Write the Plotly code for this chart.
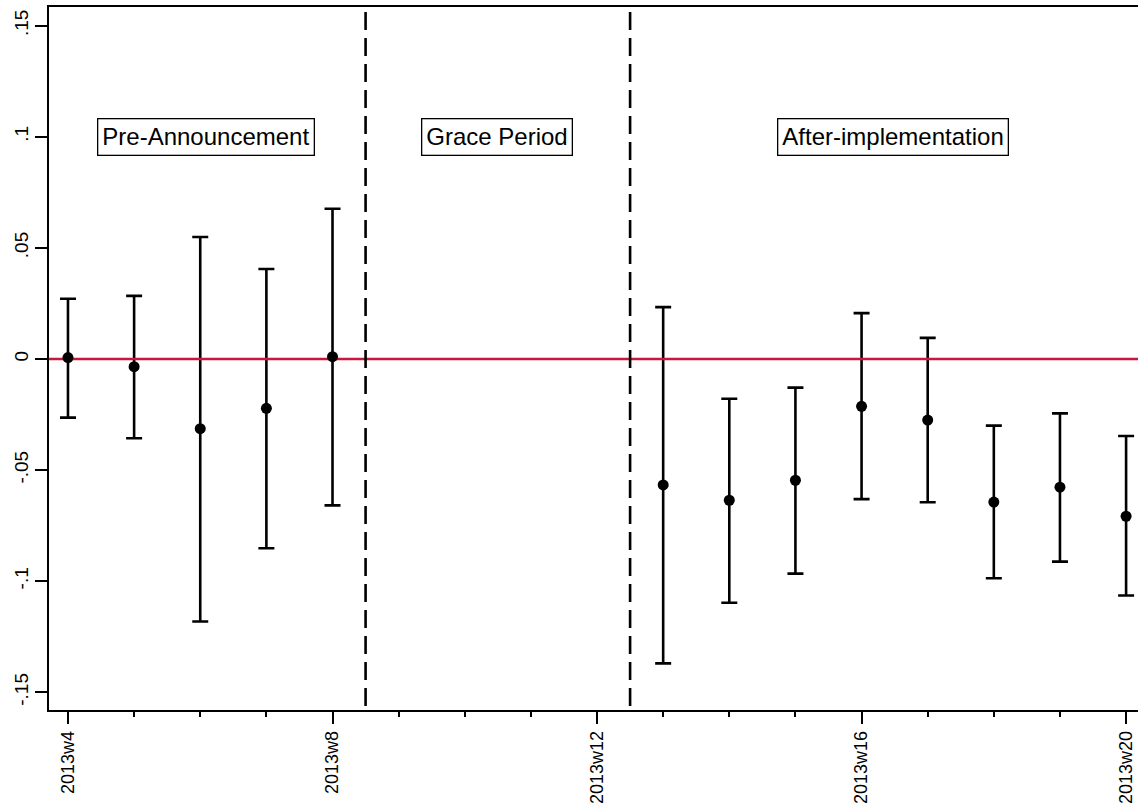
import plotly.graph_objects as go

weeks = [4, 5, 6, 7, 8, 13, 14, 15, 16, 17, 18, 19, 20]
coef = [0.0006, -0.0035, -0.0314, -0.0222, 0.0010, -0.0567, -0.0636, -0.0546, -0.0213, -0.0275, -0.0644, -0.0577, -0.0708]
ci_hi = [0.0271, 0.0284, 0.0549, 0.0405, 0.0676, 0.0233, -0.0179, -0.0129, 0.0206, 0.0095, -0.0300, -0.0245, -0.0347]
ci_lo = [-0.0264, -0.0357, -0.1182, -0.0852, -0.0659, -0.1370, -0.1097, -0.0966, -0.0631, -0.0645, -0.0987, -0.0912, -0.1065]

xtick_vals = [4, 8, 12, 16, 20]
xtick_text = ["2013w4", "2013w8", "2013w12", "2013w16", "2013w20"]
ytick_vals = [-0.15, -0.1, -0.05, 0, 0.05, 0.1, 0.15]
ytick_text = ["-.15", "-.1", "-.05", "0", ".05", ".1", ".15"]

period_breaks = [8.5, 12.5]
period_labels = ["Pre-Announcement", "Grace Period", "After-implementation"]
period_label_x = [6.09, 10.49, 16.48]
period_label_y = 0.1

x_range = [3.713, 20.18]
y_range = [-0.158, 0.1584]

FONT = "Liberation Sans, Arial, sans-serif"

err_plus = [h - c for h, c in zip(ci_hi, coef)]
err_minus = [c - l for c, l in zip(coef, ci_lo)]

fig = go.Figure()

# error bars (no visible markers)
fig.add_trace(go.Scatter(
    x=weeks, y=coef, mode="markers",
    marker=dict(size=1, color="rgba(0,0,0,0)"),
    error_y=dict(type="data", symmetric=False, array=err_plus, arrayminus=err_minus,
                 color="black", thickness=2.6, width=8),
    showlegend=False, hoverinfo="skip"))

# red zero line
fig.add_trace(go.Scatter(
    x=x_range, y=[0, 0], mode="lines",
    line=dict(color="#c8173f", width=2.6),
    showlegend=False, hoverinfo="skip"))

# point estimates
fig.add_trace(go.Scatter(
    x=weeks, y=coef, mode="markers",
    marker=dict(size=11, color="black"),
    showlegend=False))

for b in period_breaks:
    fig.add_shape(type="line", xref="x", yref="y domain", x0=b, x1=b, y0=0.9929, y1=0,
                  line=dict(color="black", width=2.6, dash="18px,8px"), layer="above")

for lab, lx in zip(period_labels, period_label_x):
    fig.add_annotation(x=lx, y=period_label_y, xref="x", yref="y", text=lab,
                       showarrow=False, font=dict(family=FONT, size=24, color="black"),
                       bgcolor="white", bordercolor="black", borderwidth=1.3, borderpad=4)

fig.update_layout(
    width=1138, height=806,
    margin=dict(l=49, r=0, t=7, b=96),
    paper_bgcolor="white", plot_bgcolor="white",
    font=dict(family=FONT, size=17, color="black"),
    xaxis=dict(range=x_range, tickmode="array", tickvals=xtick_vals, ticktext=xtick_text,
               tickangle=-90, ticks="outside", ticklen=12, tickwidth=1.5, tickcolor="black",
               ticklabelstandoff=0,
               showgrid=False, zeroline=False, showline=True, linecolor="black", linewidth=1.5,
               mirror=True,
               minor=dict(tickmode="linear", tick0=4, dtick=1, ticks="outside", ticklen=5,
                          tickwidth=1.5, tickcolor="black", showgrid=False),
               tickfont=dict(size=18)),
    yaxis=dict(range=y_range, tickmode="array", tickvals=ytick_vals, ticktext=ytick_text,
               tickangle=-90, ticks="outside", ticklen=12, tickwidth=1.5, tickcolor="black",
               showgrid=False, zeroline=False, showline=True, linecolor="black", linewidth=1.5,
               tickfont=dict(size=19)),
)

fig.write_html("out.html", config={"displayModeBar": False},
               post_script="document.body.style.margin='0';document.body.style.overflow='hidden';")
